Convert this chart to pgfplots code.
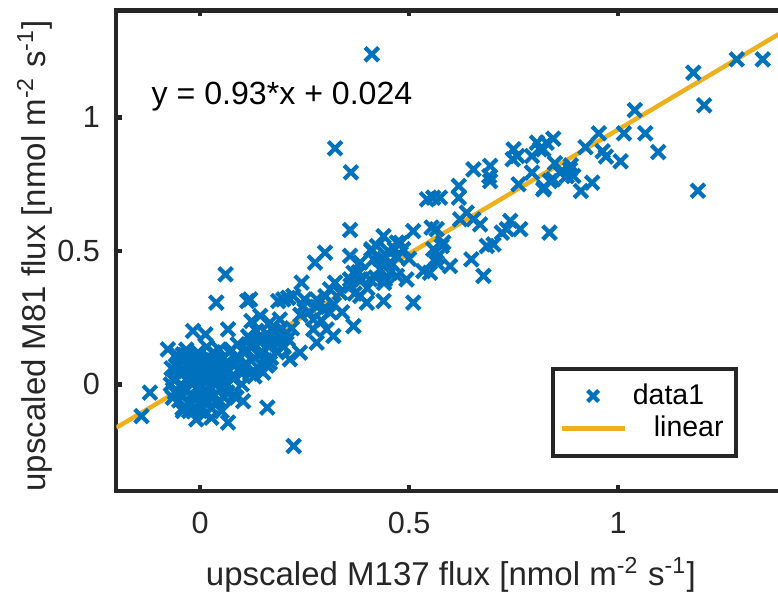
\documentclass[border=0pt]{standalone}
\usepackage{pgfplots}
\pgfplotsset{compat=1.18}
\usepackage{fontspec}
\setmainfont{Liberation Sans}
\definecolor{mblue}{RGB}{0,114,189}
\definecolor{morange}{RGB}{237,177,32}
\definecolor{axcol}{RGB}{38,38,38}
\pgfplotsset{
  markleg/.style={legend image code/.code={\draw[mark repeat=2,mark phase=2,##1,mark size=2.6pt] plot coordinates {(0pt,0pt)(10.5pt,0pt)(21pt,0pt)};}},
  lineleg/.style={legend image code/.code={\draw[##1] (0pt,0pt) -- (21pt,0pt);}},
}
\begin{document}
\begin{tikzpicture}
\begin{axis}[name=ax,
  width=222.93pt, height=160.2pt, scale only axis,
  xmin=-0.2, xmax=1.4, ymin=-0.4, ymax=1.4,
  xtick={0,0.5,1}, ytick={0,0.5,1},
  tick align=inside, major tick length=2pt,
  axis line style={draw=axcol, line width=1.35pt},
  every tick/.style={draw=axcol, line width=1.5pt},
  /pgf/number format/assume math mode=true,
  tick label style={font=\fontsize{10.2}{12}\selectfont, text=axcol},
  xticklabel style={yshift=-3.5pt},
  yticklabel style={xshift=-2pt},
  label style={font=\fontsize{11}{13}\selectfont, text=axcol},
  xlabel={upscaled M137 flux [nmol m\textsuperscript{-2} s\textsuperscript{-1}]},
  ylabel={upscaled M81 flux [nmol m\textsuperscript{-2} s\textsuperscript{-1}]},
  xlabel style={at={(axis description cs:0.5,-0.175)}, anchor=center},
  ylabel style={at={(axis description cs:-0.1226,0.49)}, anchor=center},
  legend style={at={(0.9286,0.07)}, anchor=south east, draw=axcol, line width=1.3pt,
    font=\fontsize{9.5}{11}\selectfont, inner xsep=2pt, inner ysep=2.8pt, row sep=-1.5pt},
  legend cell align=left,
]
\addplot[only marks, mark=x, mark size=3.2pt, mblue, line width=1.4pt, markleg]
table {
x y
1.284 1.217
1.346 1.217
1.180 1.167
1.206 1.045
1.040 1.027
0.954 0.940
1.014 0.940
1.065 0.940
0.845 0.920
0.829 0.905
0.821 0.880
0.922 0.888
0.963 0.873
0.971 0.853
1.096 0.870
1.006 0.835
0.849 0.828
0.887 0.820
0.893 0.780
0.861 0.793
0.845 0.768
0.823 0.737
0.938 0.755
0.911 0.724
1.191 0.725
0.836 0.568
0.806 0.905
0.813 0.880
0.794 0.855
0.750 0.880
0.759 0.855
0.748 0.843
0.654 0.805
0.694 0.818
0.692 0.780
0.694 0.761
0.794 0.793
0.885 0.805
0.877 0.780
0.837 0.761
0.821 0.730
0.762 0.749
0.619 0.743
0.619 0.699
0.574 0.699
0.558 0.699
0.638 0.643
0.654 0.618
0.622 0.618
0.670 0.599
0.566 0.581
0.742 0.612
0.734 0.581
0.766 0.581
0.582 0.531
0.558 0.506
0.566 0.475
0.598 0.443
0.686 0.518
0.702 0.524
0.722 0.568
0.649 0.468
0.678 0.406
0.550 0.418
0.543 0.693
0.359 0.578
0.510 0.574
0.554 0.587
0.439 0.555
0.423 0.518
0.471 0.531
0.486 0.506
0.299 0.493
0.275 0.456
0.359 0.481
0.383 0.456
0.415 0.468
0.439 0.468
0.431 0.431
0.455 0.418
0.471 0.406
0.367 0.418
0.359 0.393
0.407 0.393
0.494 0.393
0.534 0.424
0.566 0.456
0.578 0.518
0.243 0.381
0.323 0.381
0.311 0.356
0.335 0.343
0.383 0.331
0.399 0.306
0.439 0.312
0.510 0.306
0.199 0.318
0.223 0.331
0.247 0.293
0.279 0.318
0.295 0.281
0.311 0.269
0.271 0.243
0.303 0.206
0.319 0.181
0.279 0.156
0.367 0.218
0.239 0.119
0.207 0.194
0.191 0.243
0.167 0.231
0.144 0.256
0.120 0.318
0.136 0.169
0.167 0.156
0.199 0.143
0.167 0.081
0.151 0.044
0.215 0.094
0.061 0.412
0.211 0.324
0.410 0.506
0.386 0.393
0.442 0.393
0.466 0.506
0.039 0.306
0.113 0.312
0.187 0.312
0.250 0.318
-0.017 0.200
0.013 0.187
0.067 0.206
0.123 0.237
-0.077 0.131
-0.041 0.112
-0.120 -0.031
-0.140 -0.119
0.087 -0.050
0.103 -0.063
0.161 -0.087
-0.041 -0.100
-0.009 -0.131
0.027 -0.125
0.067 -0.143
0.224 -0.231
0.271 0.206
0.411 1.236
0.323 0.884
0.361 0.794
0.26 0.27
0.29 0.24
0.32 0.30
0.34 0.27
0.37 0.34
0.40 0.36
0.42 0.40
0.44 0.38
0.46 0.45
0.47 0.48
0.45 0.50
0.43 0.47
0.41 0.50
0.48 0.53
0.50 0.47
0.38 0.42
0.36 0.37
0.30 0.33
0.28 0.29
0.22 0.21
0.24 0.26
0.21 0.17
-0.065 0.02
-0.06 -0.03
-0.058 0.07
-0.055 0.11
-0.05 -0.06
-0.048 0.04
-0.045 0.0
-0.042 -0.09
-0.04 0.09
-0.038 0.05
-0.035 -0.02
-0.033 0.13
-0.03 0.02
-0.028 -0.07
-0.025 0.06
-0.022 -0.04
-0.02 0.1
-0.018 0.0
-0.015 -0.1
-0.012 0.03
-0.01 0.08
-0.008 -0.05
-0.005 0.12
-0.003 -0.02
0.0 0.05
0.0 0.0
0.002 -0.08
0.004 0.02
0.006 0.09
0.008 -0.03
0.01 0.06
0.012 -0.11
0.014 0.01
0.016 0.14
0.018 -0.06
0.02 0.04
0.022 0.1
0.024 -0.01
0.026 0.07
0.028 -0.09
0.03 0.02
0.032 0.12
0.034 -0.04
0.036 0.05
0.038 0.0
0.04 0.09
0.042 -0.07
0.044 0.03
0.046 0.13
0.048 -0.02
0.05 0.06
0.052 -0.1
0.054 0.01
0.056 0.1
0.058 -0.05
0.06 0.04
0.062 0.08
-0.06 0.05
-0.052 0.08
-0.046 -0.04
-0.036 0.11
-0.026 -0.1
-0.016 0.05
-0.006 0.1
0.006 -0.06
0.016 0.07
0.026 -0.05
0.036 0.09
0.046 -0.06
0.056 0.03
-0.04 -0.01
-0.02 0.07
0.0 -0.1
0.02 -0.03
0.04 0.06
-0.07 0.0
-0.068 0.06
-0.065 -0.05
0.065 -0.03
0.07 0.12
0.065 0.0
0.07 0.05
0.08 0.02
0.085 0.1
0.09 0.15
0.095 0.06
0.1 0.0
0.105 0.12
0.11 0.08
0.115 0.18
0.12 0.04
0.125 0.14
0.13 0.1
0.135 0.2
0.14 0.06
0.145 0.16
0.15 0.12
0.155 0.09
0.16 0.19
0.165 0.14
0.17 0.1
0.175 0.2
0.18 0.16
0.185 0.12
0.19 0.2
0.195 0.17
0.2 0.14
0.08 -0.04
0.09 0.09
0.1 0.04
0.11 0.13
0.075 0.13
0.12 0.17
0.13 0.03
0.14 0.11
0.15 0.17
0.16 0.07
0.17 0.15
};
\addlegendentry{data1}
\addplot[morange, line width=1.5pt, lineleg]
table {
x y
-0.2 -0.162
1.4 1.326
};
\addlegendentry{\hspace{7pt}linear}
\node[anchor=west, inner sep=0pt, font=\fontsize{10.7}{12}\selectfont] at (axis cs:-0.117,1.079) {y = 0.93*x + 0.024};
\end{axis}
\pgfresetboundingbox
\path[use as bounding box] ([xshift=-38.8pt,yshift=-36.4pt]ax.south west) rectangle ([xshift=220.5pt,yshift=3.5pt]ax.north west);
\end{tikzpicture}
\end{document}
